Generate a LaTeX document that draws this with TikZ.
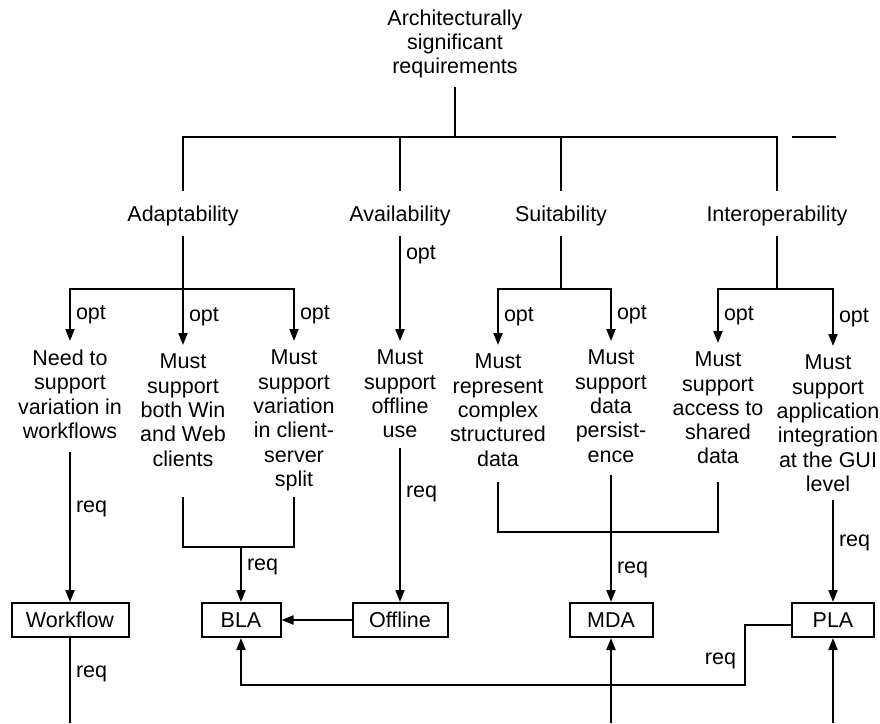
\documentclass[tikz,border=0pt]{standalone}
\usepackage{fontspec}
\setmainfont{Liberation Sans}
\usetikzlibrary{arrows.meta}

\tikzset{
  txt/.style={font=\fontsize{21.5}{24.3}\selectfont, inner sep=0pt, align=center},
  reqtxt/.style={txt, anchor=north, outer ysep=9pt},
  box/.style={txt, draw, minimum height=34pt},
  lbl/.style={txt, anchor=west, xshift=5pt},
  arr/.style={-{Triangle[length=12pt,width=9pt]}},
}

\begin{document}
\begin{tikzpicture}[x=1pt, y=-1pt, line width=2pt]
        \useasboundingbox (0,0) rectangle (880,723);

        % Root and quality attributes
        \node[txt] (asr) at (455,44) {Architecturally\\significant\\requirements};
        \node[txt] (adapt) at (183,216) {Adaptability};
        \node[txt] (avail) at (400,216) {Availability};
        \node[txt] (suit) at (561,216) {Suitability};
        \node[txt] (interop) at (777,216) {Interoperability};

        % Requirements
        \node[reqtxt] (need) at (70,341) {Need to\\support\\variation in\\workflows};
        \node[reqtxt] (winweb) at (183,345) {Must\\support\\both Win\\and Web\\clients};
        \node[reqtxt] (split) at (294,341) {Must\\support\\variation\\in client-\\server\\split};
        \node[reqtxt] (offl) at (400,341) {Must\\support\\offline\\use};
        \node[reqtxt] (cplx) at (498,345) {Must\\represent\\complex\\structured\\data};
        \node[reqtxt] (persist) at (611,341) {Must\\support\\data\\persist-\\ence};
        \node[reqtxt] (shared) at (718,343) {Must\\support\\access to\\shared\\data};
        \node[reqtxt] (gui) at (828,346) {Must\\support\\application\\integration\\at the GUI\\level};

        % Architectural choices
        \node[box, minimum width=117pt] (workflow) at (70,620) {Workflow};
        \node[box, minimum width=79pt] (bla) at (241,620) {BLA};
        \node[box, minimum width=95pt] (offline) at (400,620) {Offline};
        \node[box, minimum width=83pt] (mda) at (611,620) {MDA};
        \node[box, minimum width=82pt] (pla) at (833,620) {PLA};

        % Top tree
        \draw (asr.south |- 0,87) -- (asr.south |- 0,137);
        \draw (adapt |- 0,191) |- (interop |- 0,137) -- (interop |- 0,191);
        \draw (avail |- 0,137) -- (avail |- 0,191);
        \draw (suit |- 0,137) -- (suit |- 0,191);
        \draw (792,137) -- (836,137);

        % Branch points
        \coordinate (aj) at (adapt |- 0,289);
        \coordinate (sj) at (suit |- 0,289);
        \coordinate (ij) at (interop |- 0,289);

        % Adaptability
        \draw (adapt |- 0,236) -- (aj);
        \draw[arr] (aj) -| node[lbl, pos=0.75] {opt} (need);
        \draw[arr] (aj) -- node[lbl] {opt} (winweb);
        \draw[arr] (aj) -| node[lbl, pos=0.75] {opt} (split);

        % Availability
        \draw[arr] (avail |- 0,236) -- node[lbl, pos=0.18] {opt} (offl);

        % Suitability
        \draw (suit |- 0,236) -- (sj);
        \draw[arr] (sj) -| node[lbl, pos=0.75] {opt} (cplx);
        \draw[arr] (sj) -| node[lbl, pos=0.75] {opt} (persist);

        % Interoperability
        \draw (interop |- 0,236) -- (ij);
        \draw[arr] (ij) -| node[lbl, pos=0.75] {opt} (shared);
        \draw[arr] (ij) -| node[lbl, pos=0.75] {opt} (pla |- gui.north);

        % Requirements to choices
        \draw[arr] (need |- 0,452) -- node[lbl, pos=0.38] {req} (workflow);
        \draw (winweb |- 0,497) -- (winweb |- 0,547) -| (split |- 0,497);
        \draw[arr] (bla |- 0,547) -- node[lbl, pos=0.36] {req} (bla);
        \draw[arr] (offl |- 0,448) -- node[lbl, pos=0.3] {req} (offline);
        \draw (cplx |- 0,482) -- (cplx |- 0,532) -| (shared |- 0,482);
        \draw[arr] (persist |- 0,475) -- node[lbl, pos=0.75] {req} (mda);
        \draw[arr] (pla |- 0,500) -- node[lbl, pos=0.42] {req} (pla);

        % Links between choices
        \draw[arr] (offline) -- (bla);
        \draw[arr] ([yshift=-5pt]pla.west) -- ++(-46,0) -- node[lbl, anchor=east, xshift=-13pt, pos=0.6] {req} ++(0,60) -| (bla);

        % Lines leaving the bottom
        \coordinate (wfend) at (workflow |- 0,723);
        \coordinate (mdaend) at (mda |- 0,723);
        \coordinate (plaend) at (pla |- 0,723);
        \draw (workflow) -- node[lbl, pos=0.42] {req} (wfend);
        \draw[arr] (mdaend) -- (mda);
        \draw[arr] (plaend) -- (pla);

    \end{tikzpicture}
\end{document}
